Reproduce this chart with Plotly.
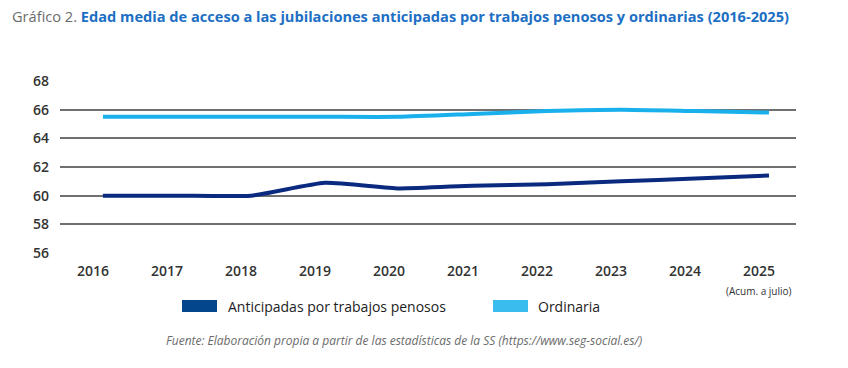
import plotly.graph_objects as go

years = [2016, 2017, 2018, 2019, 2020, 2021, 2022, 2023, 2024, 2025]
year_labels = ["2016", "2017", "2018", "2019", "2020", "2021", "2022", "2023", "2024", "2025"]
penosos = [60.0, 60.0, 60.0, 60.9, 60.5, 60.7, 60.8, 61.0, 61.2, 61.4]
ordinaria = [65.5, 65.5, 65.5, 65.5, 65.5, 65.7, 65.9, 66.0, 65.9, 65.8]
y_ticks = [56, 58, 60, 62, 64, 66, 68]
series_names = ["Anticipadas por trabajos penosos", "Ordinaria"]

DARK = "#0A2A7F"
LIGHT = "#1AB0EC"
DARK_LEG = "#03468C"
LIGHT_LEG = "#3BBCEF"
FONT = "Open Sans"

W, H = 848, 368
L, R, T, B = 60, 52, 81, 115
PW, PH = W - L - R, H - T - B

def px(x):
    return (x - L) / PW

def py(y):
    return (H - B - y) / PH

fig = go.Figure()
fig.add_trace(go.Scatter(x=years, y=ordinaria, mode="lines",
                         line=dict(color=LIGHT, width=4, shape="spline", smoothing=0.5),
                         showlegend=False, name=series_names[1]))
fig.add_trace(go.Scatter(x=years, y=penosos, mode="lines",
                         line=dict(color=DARK, width=4, shape="spline", smoothing=0.5),
                         showlegend=False, name=series_names[0]))

fig.add_hline(y=60, line=dict(color="#222222", width=1.2), layer="below")

# manual legend (rectangular swatches)
shapes = [
    dict(type="rect", xref="paper", yref="paper", x0=px(182), x1=px(217), y0=py(312), y1=py(300),
         fillcolor=DARK_LEG, line=dict(width=0)),
    dict(type="rect", xref="paper", yref="paper", x0=px(493), x1=px(528), y0=py(312), y1=py(300),
         fillcolor=LIGHT_LEG, line=dict(width=0)),
]
for s in shapes:
    fig.add_shape(**s)

annotations = [
    dict(x=px(226), y=py(306), xref="paper", yref="paper", text=series_names[0], showarrow=False,
         xanchor="left", yanchor="middle", font=dict(family=FONT, size=14, color="#222222")),
    dict(x=px(536), y=py(306), xref="paper", yref="paper", text=series_names[1], showarrow=False,
         xanchor="left", yanchor="middle", font=dict(family=FONT, size=14, color="#222222")),
    dict(x=2025, y=0, xref="x", yref="paper", text="(Acum. a julio)", showarrow=False,
         xshift=-10, yshift=-38, font=dict(family=FONT, size=10, color="#333333"), yanchor="middle"),
    dict(x=px(404), y=py(340), xref="paper", yref="paper",
         text="<i>Fuente: Elaboración propia a partir de las estadísticas de la SS (https://www.seg-social.es/)</i>",
         showarrow=False, font=dict(family=FONT, size=12, color="#6b6b6b"), xanchor="center", yanchor="middle"),
]

fig.update_layout(
    width=W, height=H,
    margin=dict(l=L, r=R, t=T, b=B, autoexpand=False),
    paper_bgcolor="white", plot_bgcolor="white",
    font=dict(family=FONT, color="#333333", size=13),
    showlegend=False,
    title=dict(
        text="<span style='color:#6b6b6b'>Gráfico 2.</span> <b><span style='color:#1D6FC4'>Edad media de acceso a las jubilaciones anticipadas por trabajos penosos y ordinarias (2016-2025)</span></b>",
        xref="container", yref="container", x=12/W, xanchor="left", y=1-17/H, yanchor="middle",
        font=dict(family=FONT, size=14.6),
    ),
    xaxis=dict(
        range=[2015.42, 2025.365], tickmode="array", tickvals=years, ticktext=year_labels,
        showgrid=False, zeroline=False, showline=False, ticks="",
        tickfont=dict(family=FONT, size=14, color="#333333", weight=600),
        ticklabelshift=-10, ticklabelstandoff=8,
    ),
    yaxis=dict(
        range=[56, 68], tickmode="array", tickvals=y_ticks,
        showgrid=True, gridcolor="#707070", gridwidth=1.5, zeroline=False, showline=False, ticks="",
        tickfont=dict(family=FONT, size=14, color="#333333", weight=600),
        ticklabelstandoff=10,
    ),
    annotations=annotations,
)

fig.write_html("out.html", config={"displayModeBar": False},
               post_script="document.body.style.margin='0';")
